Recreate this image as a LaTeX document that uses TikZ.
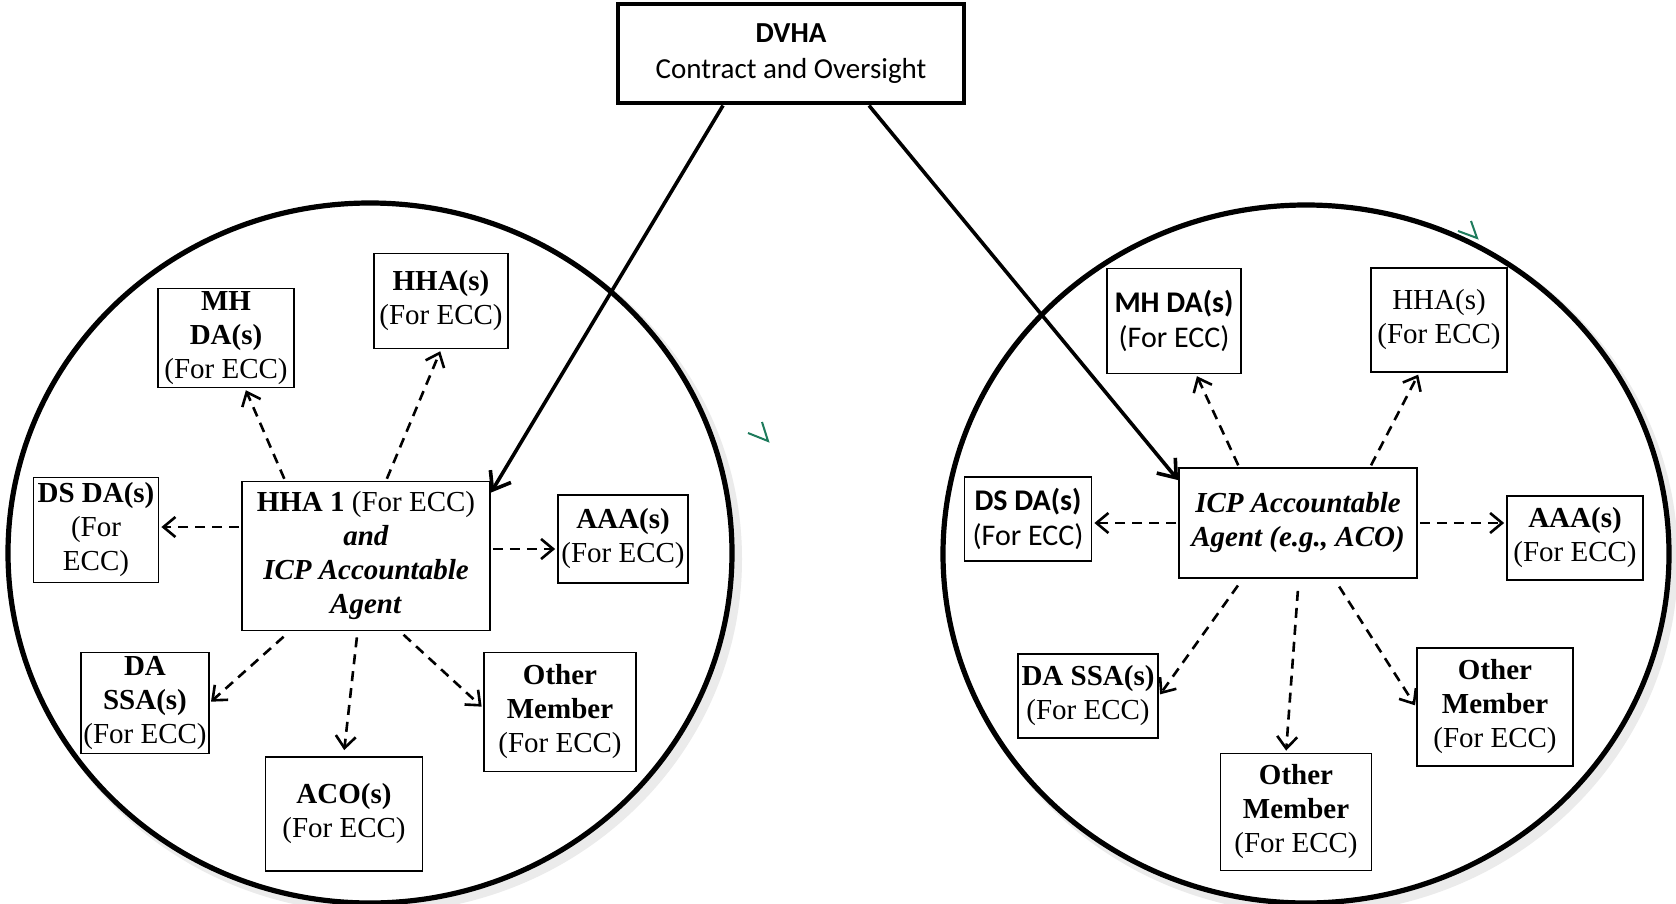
\documentclass[tikz,border=0pt]{standalone}
\usepackage{fontspec}
\setmainfont{Liberation Serif}
\newfontfamily\calib{Carlito}
\usepackage{tikz}
\usetikzlibrary{arrows.meta,positioning}
\definecolor{tickgreen}{HTML}{1E7B5C}
\tikzset{box/.style={draw,fill=white,line width=0.9pt,align=center,inner sep=1pt,
                     font=\fontsize{14.5}{17}\selectfont},
         sbox/.style={box,font=\calib\fontsize{15}{17.5}\selectfont},
         group/.style={draw,fill=white,line width=2.6pt},
         link/.style={-{Straight Barb[length=6pt,width=10pt]},line width=1.3pt,
                      dash pattern=on 5pt off 3.5pt,shorten <=1pt,shorten >=1pt},
         feed/.style={-{Straight Barb[length=8pt,width=12pt]},line width=1.8pt}}

\begin{document}
\begin{tikzpicture}[x=0.5pt,y=-0.5pt]
                   \useasboundingbox (0,0) rectangle (1676,904);
                   \fill[white] (0,0) rectangle (1676,904);
                   \fill[black!8] (376,559) ellipse [x radius=366, y radius=354];
                   \fill[black!8] (1312,560) ellipse [x radius=366, y radius=354];
                   \path[group] (370,553) ellipse [x radius=362, y radius=350];
                   \path[group] (1306,554) ellipse [x radius=363, y radius=349];
                   \draw[tickgreen,line width=1pt] (748,433) -- (768,441) -- (762,422);
                   \draw[tickgreen,line width=1pt] (1458,231) -- (1477,238) -- (1471,221);

                   \node[sbox,line width=2pt,minimum width=173pt,minimum height=49.5pt,font=\calib\fontsize{14.5}{18}\selectfont] (dvha) at (791,54) {\textbf{DVHA}\\Contract and Oversight};

                   \node[box,minimum width=124pt,minimum height=74.5pt] (hhaL) at (366,556) {\textbf{HHA 1} (For ECC)\\\textbf{\textit{and}}\\\textbf{\textit{ICP Accountable}}\\\textbf{\textit{Agent}}};
                   \node[box,minimum width=68pt,minimum height=49.5pt] (mhL) at (226,338) {\textbf{MH}\\\textbf{DA(s)}\\(For ECC)};
                   \node[box,minimum width=67pt,minimum height=47.5pt] (hhasL) at (441,301) {\textbf{HHA(s)}\\(For ECC)};
                   \node[box,minimum width=62.5pt,minimum height=52.5pt] (dsL) at (96,530) {\textbf{DS DA(s)}\\(For\\ECC)};
                   \node[box,minimum width=65pt,minimum height=44pt] (aaaL) at (623,539) {\textbf{AAA(s)}\\(For ECC)};
                   \node[box,minimum width=63.5pt,minimum height=50.5pt] (ssaL) at (145,703) {\textbf{DA}\\\textbf{SSA(s)}\\(For ECC)};
                   \node[box,minimum width=78.5pt,minimum height=57pt] (acoL) at (344,814) {\textbf{ACO(s)}\\(For ECC)};
                   \node[box,minimum width=76pt,minimum height=59.5pt] (othL) at (560,712) {\textbf{Other}\\\textbf{Member}\\(For ECC)};

                   \node[box,minimum width=119pt,minimum height=55pt] (icpR) at (1298,523) {\textbf{\textit{ICP Accountable}}\\\textbf{\textit{Agent (e.g., ACO)}}};
                   \node[sbox,minimum width=67pt,minimum height=52.5pt] (mhR) at (1174,321) {\textbf{MH DA(s)}\\(For ECC)};
                   \node[box,minimum width=68pt,minimum height=52pt] (hhasR) at (1439,320) {HHA(s)\\(For ECC)};
                   \node[sbox,minimum width=63.5pt,minimum height=42pt] (dsR) at (1028,519) {\textbf{DS DA(s)}\\(For ECC)};
                   \node[box,minimum width=68pt,minimum height=42pt] (aaaR) at (1575,538) {\textbf{AAA(s)}\\(For ECC)};
                   \node[box,minimum width=70pt,minimum height=42pt] (ssaR) at (1088,696) {\textbf{DA SSA(s)}\\(For ECC)};
                   \node[box,minimum width=75.5pt,minimum height=58.5pt] (othRa) at (1296,812) {\textbf{Other}\\\textbf{Member}\\(For ECC)};
                   \node[box,minimum width=78pt,minimum height=59pt] (othRb) at (1495,707) {\textbf{Other}\\\textbf{Member}\\(For ECC)};

                    \path[feed]
                    ([xshift=53.5pt]dvha.south west) edge ([yshift=-6pt]hhaL.north east)
                    ([xshift=126.5pt]dvha.south west) edge ([yshift=-6.5pt]icpR.north west);
                    \path[link]
                    ([xshift=22pt]hhaL.north west) edge ([xshift=44pt]mhL.south west)
                    ([xshift=72.5pt]hhaL.north west) edge (hhasL.south)
                    ([yshift=14.5pt]hhaL.west) edge ([yshift=1.5pt]dsL.east)
                    ([yshift=3.5pt]hhaL.east) edge ([yshift=-5pt]aaaL.west)
                    ([xshift=22pt,yshift=-2pt]hhaL.south west) edge (ssaL.east)
                    ([xshift=58pt,yshift=-2pt]hhaL.south west) edge ([yshift=2pt]acoL.north)
                    ([xshift=80.5pt,yshift=-1pt]hhaL.south west) edge ([yshift=2pt]othL.west);
                    \path[link]
                    ([xshift=30.5pt]icpR.north west) edge ([xshift=45pt]mhR.south west)
                    ([xshift=96pt]icpR.north west) edge ([xshift=24.5pt]hhasR.south west)
                    (icpR.west) edge ([yshift=-2pt]dsR.east)
                    (icpR.east) edge ([yshift=7.5pt]aaaR.west)
                    ([xshift=30.5pt,yshift=-2.5pt]icpR.south west) edge (ssaR.east)
                    ([yshift=-5pt]icpR.south) edge ([xshift=-5pt]othRa.north)
                    ([xshift=80pt,yshift=-3pt]icpR.south west) edge (othRb.west);
                \end{tikzpicture}
\end{document}
